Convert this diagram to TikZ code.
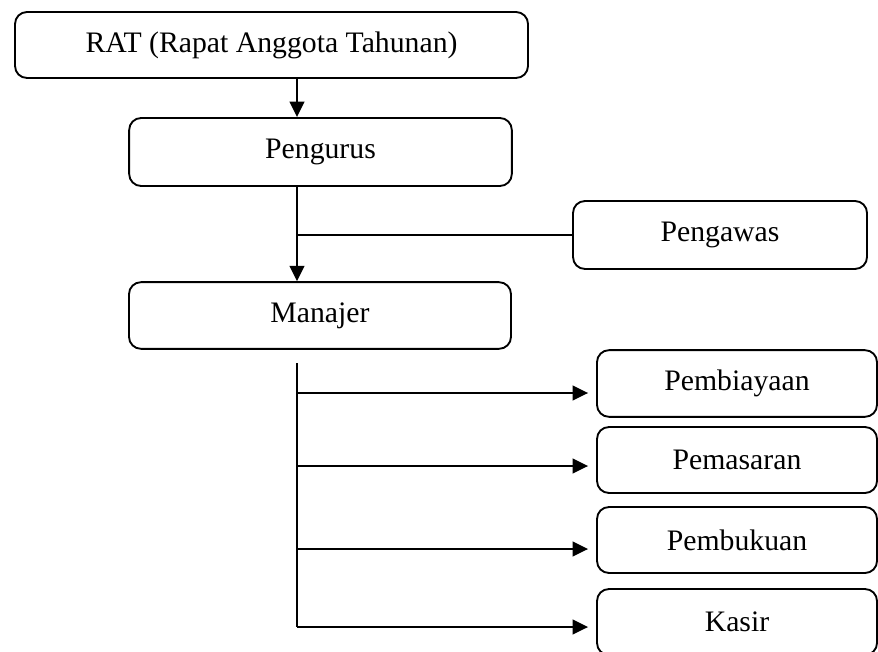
\documentclass[tikz,border=0pt]{standalone}
\usepackage{fontspec}
\setmainfont{Liberation Serif}
\usetikzlibrary{positioning,arrows.meta,calc}

\begin{document}
\begin{tikzpicture}[
    x=0.75pt, y=-0.75pt,
    >={Triangle[length=11.5pt,width=11pt]},
    unit/.style={draw, rounded corners=9pt, line width=1.4pt,
                 font=\fontsize{22.3}{26}\selectfont, inner sep=0pt},
    link/.style={line width=1.3pt},
    trans/.style={->, line width=1.4pt},
]
\useasboundingbox (0,0) rectangle (878,652);
\node[unit, minimum width=384.75pt, minimum height=49.5pt]
    (rat) at (271.5,45) {RAT (Rapat Anggota Tahunan)};
\node[unit, minimum width=287pt, minimum height=51pt]
    (pengurus) at (320.5,152) {Pengurus};
\node[unit, minimum width=220.5pt, minimum height=51pt]
    (pengawas) at (720,235) {Pengawas};
\node[unit, minimum width=286.5pt, minimum height=50pt]
    (manajer) at (320,315.5) {Manajer};
\node[unit, minimum width=210pt, minimum height=50pt]
    (biaya) at (737,383.5) {Pembiayaan};
\node[unit, minimum width=210pt, minimum height=49.5pt]
    (pasar) at (737,460) {Pemasaran};
\node[unit, minimum width=210pt, minimum height=49.5pt]
    (buku) at (737,540) {Pembukuan};
\node[unit, minimum width=210pt, minimum height=49.5pt]
    (kasir) at (737,622) {Kasir};

% garis komando atas
\coordinate (spine) at (297,0);
\draw[trans] (rat.south -| spine) -- (pengurus.north -| spine);
\draw[trans] (pengurus.south -| spine) -- (manajer.north -| spine);
\draw[link] (pengawas.west -| spine) -- (pengawas.west);

% cabang dari manajer
\coordinate (trunk) at (297,363);
\foreach \unit/\y in {biaya/393, pasar/466, buku/549, kasir/627}
    \coordinate (t\unit) at (297,\y);
\foreach \unit in {biaya, pasar, buku, kasir}
    \draw[trans, shorten >=6pt] (t\unit) -- (\unit.west |- t\unit);
\draw[link] (trunk) -- (tkasir);
\end{tikzpicture}
\end{document}
